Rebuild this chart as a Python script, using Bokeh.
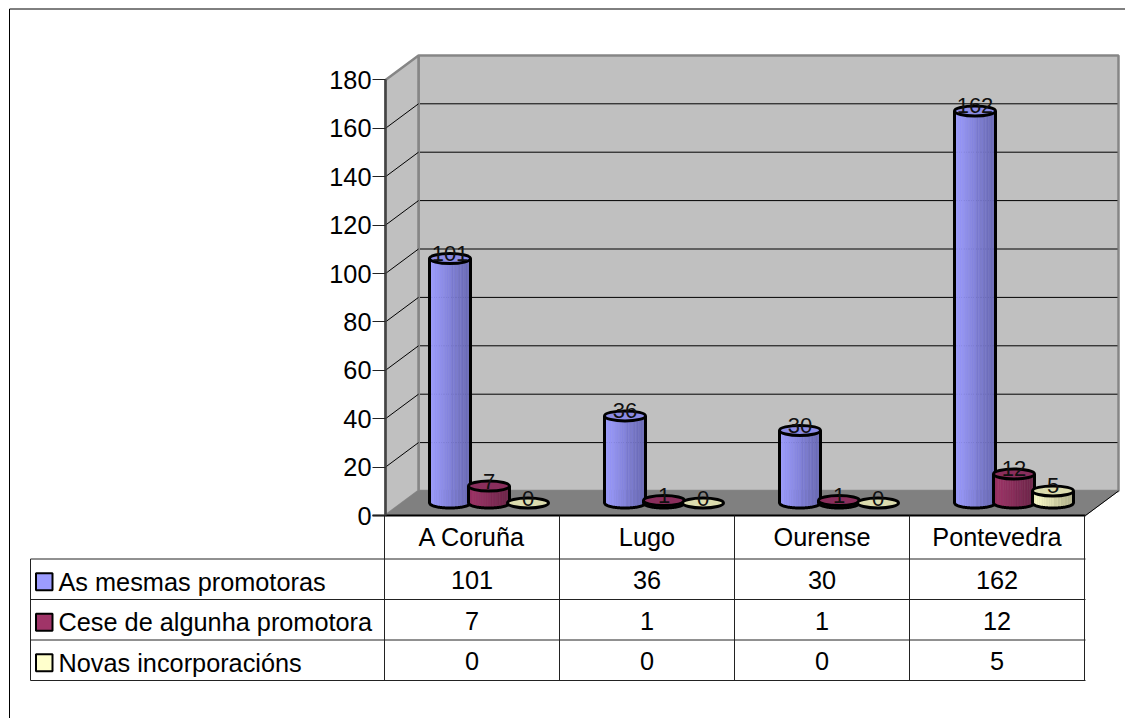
from bokeh.plotting import figure
from bokeh.models import Range1d, LinearAxis, FixedTicker
from bokeh.core.properties import value
from bokeh.embed import file_html
from bokeh.resources import INLINE
import math

categories = ["A Coruña", "Lugo", "Ourense", "Pontevedra"]
series_names = ["As mesmas promotoras", "Cese de algunha promotora", "Novas incorporacións"]
mesmas = [101, 36, 30, 162]
cese = [7, 1, 1, 12]
novas = [0, 0, 0, 5]
y_ticks = [0, 20, 40, 60, 80, 100, 120, 140, 160, 180]

series = [mesmas, cese, novas]
face = ["#9c9cff", "#a03468", "#ffffcc"]
dark = ["#6c6cb8", "#6f264b", "#b8b890"]
top_face = ["#8c8ce6", "#8a2e5c", "#dcdcae"]

FONT = "Liberation Sans"
FS = "25.3px"
LABEL_FS = "22px"
W, H = 1125, 718
ZERO, UNIT, DX, DY = 515.0, 2.42, 33.0, 24.5
X0, X1 = 385.0, 1085.0
CAT = (X1 - X0) / 4
def V(px): return (ZERO - px) / UNIT

def hexmix(a, b, t):
    ca = [int(a[i:i+2], 16) for i in (1, 3, 5)]
    cb = [int(b[i:i+2], 16) for i in (1, 3, 5)]
    return "#%02x%02x%02x" % tuple(round(x + (y - x) * t) for x, y in zip(ca, cb))

p = figure(width=W, height=H, x_range=Range1d(0, W), y_range=Range1d(V(H), V(0)),
           x_axis_type=None, y_axis_type=None, toolbar_location=None, output_backend="svg",
           min_border=0, outline_line_color=None, background_fill_color="white",
           border_fill_color="white")
p.grid.visible = False

# frame
p.line([9, 9, W], [V(H), V(8.5), V(8.5)], line_color="black", line_width=1)

# walls
dv = DY / UNIT
vmax = y_ticks[-1]
p.patch([X0 + DX, X1 + DX, X1 + DX, X0 + DX], [dv, dv, dv + vmax, dv + vmax], fill_color="#c0c0c0",
        line_color="#868686", line_width=2.5)
p.patch([X0, X0 + DX, X0 + DX, X0], [0, dv, dv + vmax, vmax], fill_color="#c0c0c0",
        line_color="#868686", line_width=2.5)
p.patch([X0, X1, X1 + DX, X0 + DX], [0, 0, dv, dv], fill_color="#808080", line_color="#808080", line_width=1)
p.line([X1, X1 + DX], [0, dv], line_color="black", line_width=1)

# gridlines
for t in y_ticks[1:-1]:
    p.line([X0, X0 + DX], [t, t + dv], line_color="black", line_width=1)
    p.line([X0 + DX + 1.5, X1 + DX - 1], [t + dv, t + dv], line_color="black", line_width=1)

# cylinders
RX, RY = 20.5, 5.0
BASE = V(502.5)
OFFS = [64.5, 103.5, 142.5]
N = 24
for c in range(4):
    for s in range(3):
        val = series[s][c]
        cx = X0 + CAT * c + OFFS[s]
        base = BASE
        top = BASE + val
        ry = RY / UNIT
        xs, ys, cols = [], [], []
        if val > 0:
            for i in range(N):
                u0, u1 = -1 + 2 * i / N, -1 + 2 * (i + 1) / N
                e0, e1 = ry * math.sqrt(1 - u0 * u0), ry * math.sqrt(1 - u1 * u1)
                xs.append([cx + RX * u0, cx + RX * u1, cx + RX * u1, cx + RX * u0])
                ys.append([base - e0, base - e1, top - e1, top - e0])
                t = i / (N - 1)
                if i > N / 2 and i % 2:
                    t = min(1, t + 0.12)
                cols.append(hexmix(face[s], dark[s], t))
            p.patches(xs, ys, fill_color=cols, line_color=cols, line_width=0.5)
            ox, oy = [cx - RX, cx - RX], [top, base]
            for i in range(1, 40):
                u = -1 + 2 * i / 40
                ox.append(cx + RX * u)
                oy.append(base - ry * math.sqrt(1 - u * u))
            ox += [cx + RX, cx + RX]
            oy += [base, top]
            p.line(ox, oy, line_color="black", line_width=3)
        p.ellipse([cx], [top], width=2 * RX, height=2 * ry, fill_color=top_face[s],
                  line_color="black", line_width=3)
        p.text([cx], [top + 5 / UNIT], text=[str(val)], text_font=value(FONT), text_font_size=LABEL_FS,
               text_align="center", text_baseline="middle", text_color="#111111")

# y axis
ax = LinearAxis(fixed_location=X0, ticker=FixedTicker(ticks=y_ticks), bounds=(0, vmax),
                major_tick_out=13, major_tick_in=0, minor_tick_line_color=None,
                major_tick_line_color="#222222", axis_line_color="#444444", axis_line_width=2.5,
                major_label_text_font=FONT, major_label_text_font_size=FS,
                major_label_text_color="black", major_label_standoff=1)
p.add_layout(ax, "left")

# data table
ROWS = [515.0, 558.5, 599.0, 639.5, 680.0]
XT = 30.0
col_x = [X0 - 1 + CAT * i for i in range(5)]
p.line([X0 - 13, X1], [0, 0], line_color="black", line_width=2)
for i, y in enumerate(ROWS[1:]):
    p.line([XT, X1], [V(y), V(y)], line_color="#222222", line_width=1)
p.line([XT, XT], [V(ROWS[1]), V(ROWS[4])], line_color="#222222", line_width=1)
for i, x in enumerate(col_x):
    p.line([x, x], [0, V(ROWS[4])], line_color="#222222", line_width=1)
for i, cat in enumerate(categories):
    p.text([col_x[i] + CAT / 2], [V(536)], text=[cat], text_font=value(FONT), text_font_size=FS,
           text_align="center", text_baseline="middle", text_color="black")
for r in range(3):
    yc = (ROWS[r + 1] + ROWS[r + 2]) / 2
    for i in range(4):
        p.text([col_x[i] + CAT / 2], [V(yc + 1)], text=[str(series[r][i])], text_font=value(FONT),
               text_font_size=FS, text_align="center", text_baseline="middle", text_color="black")
    my = yc + 2.5
    p.quad(left=[35.5], right=[52], top=[V(my - 8.5)], bottom=[V(my + 8.5)], fill_color=face[r],
           line_color="black", line_width=2)
    p.text([58], [V(yc + 2.5)], text=[series_names[r]], text_font=value(FONT), text_font_size=FS,
           text_align="left", text_baseline="middle", text_color="black")

open("out.html", "w").write(file_html(p, INLINE))
